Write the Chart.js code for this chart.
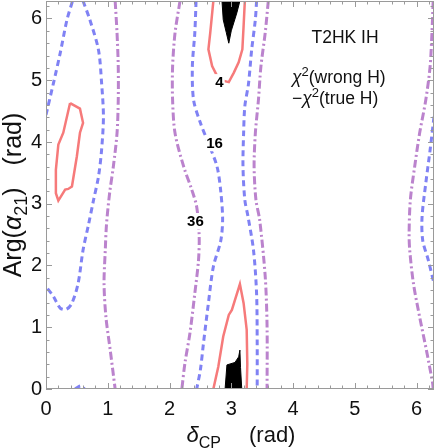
<!DOCTYPE html>
<html>
<head>
<meta charset="utf-8">
<script src="https://cdn.jsdelivr.net/npm/chart.js@4.4.0/dist/chart.umd.min.js"></script>
<style>
html,body{margin:0;padding:0;background:#fff}
#wrap{width:436px;height:448px}
</style>
</head>
<body>
<div id="wrap"><canvas id="c" width="436" height="448"></canvas></div>
<script>
// ================= DATA =================
const TWO_PI = 2*Math.PI;
const xTicks = [0,1,2,3,4,5,6];
const yTicks = [0,1,2,3,4,5,6];

// contour pieces as [deltaCP, Arg(alpha21)]
// chi^2 = 4 (red, solid)
const red4Island = [[0.39,4.63],[0.55,4.54],[0.6,4.31],[0.55,4.15],[0.5,3.77],[0.42,3.28],[0.36,3.24],[0.31,3.23],[0.2,3.05],[0.16,3.17],[0.16,3.55],[0.2,3.96],[0.28,4.15],[0.39,4.63]];
const red4Top = [[2.71,6.283],[2.66,5.77],[2.63,5.5],[2.69,5.23],[2.77,5.07],[2.88,4.99],[2.96,4.97],[3.04,5.12],[3.12,5.29],[3.18,5.5],[3.2,5.88],[3.22,6.283]];
const red4Bottom = [[2.71,0],[2.79,0.36],[2.87,0.85],[2.96,1.2],[3.01,1.28],[3.14,1.7],[3.2,1.39],[3.25,0.96],[3.26,0.4],[3.25,0]];
// chi^2 < 0 regions (black)
const blackTop = [[2.85,6.283],[2.87,5.98],[2.92,5.77],[2.96,5.6],[3.0,5.8],[3.09,6.09],[3.14,6.283]];
const blackBottom = [[2.9,0],[2.93,0.39],[3.06,0.43],[3.12,0.52],[3.14,0.63],[3.15,0.35],[3.17,0]];
// chi^2 = 16 (blue, dashed)
const blue16L1 = [[0,4.44],[0.12,4.95],[0.23,5.44],[0.34,5.98],[0.43,6.283]];
const blue16L2 = [[0.6,6.283],[0.71,5.98],[0.85,5.49],[0.9,4.96],[0.93,4.41],[0.9,3.87],[0.85,3.44],[0.77,3.06],[0.69,2.67],[0.6,2.25],[0.52,1.71],[0.42,1.39],[0.33,1.29],[0.23,1.31],[0.12,1.5],[0,1.66]];
const blue16L3 = [[0.47,0],[0.53,0.04],[0.58,0.05],[0.62,0]];
const blue16C1 = [[2.43,6.283],[2.41,5.77],[2.37,5.22],[2.39,4.68],[2.5,4.31],[2.63,3.98],[2.77,3.6],[2.83,3.2],[2.86,2.75],[2.83,2.4],[2.71,1.98],[2.63,1.39],[2.55,0.74],[2.5,0.31],[2.44,0]];
const blue16C2 = [[3.41,6.283],[3.39,5.98],[3.33,5.49],[3.28,4.95],[3.22,4.58],[3.2,4.14],[3.19,3.6],[3.22,3.06],[3.27,2.8],[3.36,2.25],[3.41,1.55],[3.42,0.74],[3.42,0]];
const blue16R = [[6.283,4.41],[6.22,3.87],[6.15,3.33],[6.09,2.79],[6.1,2.41],[6.19,2.09],[6.283,1.71]];
// chi^2 = 36 (purple, dot-dashed)
const purple36L = [[1.12,6.283],[1.15,5.77],[1.17,5.22],[1.17,4.68],[1.15,4.14],[1.09,3.6],[1.03,3.17],[0.98,2.67],[0.96,2.25],[0.94,1.71],[0.97,1.17],[1.04,0.63],[1.12,0]];
const purple36C1 = [[2.17,6.283],[2.09,5.77],[2.05,5.22],[2.05,4.68],[2.09,4.14],[2.23,3.6],[2.36,3.23],[2.44,2.95],[2.48,2.5],[2.47,2.09],[2.41,1.55],[2.33,0.9],[2.25,0.42],[2.2,0]];
const purple36C2 = [[3.6,6.283],[3.55,5.77],[3.48,5.22],[3.44,4.68],[3.39,4.14],[3.37,3.6],[3.4,3.06],[3.46,2.74],[3.55,1.82],[3.58,1.01],[3.58,0]];
const purple36R = [[6.27,6.283],[6.25,5.77],[6.22,5.22],[6.15,4.68],[6.05,4.14],[5.97,3.6],[5.9,3.06],[5.88,2.52],[5.89,2.25],[5.95,1.71],[6.05,1.17],[6.16,0.63],[6.26,0.1],[6.27,0]];

const contourLabels = [
  {text:"4",  x:2.81, y:4.97},
  {text:"16", x:2.73, y:3.98},
  {text:"36", x:2.42, y:2.72}
];

// ================= HELPERS =================
const FAM = "'Liberation Sans', Arial, sans-serif";
const RED = "#f67a7a", BLUE = "#8082f4", PURPLE = "#bb83cd";
const pts = a => a.map(p => ({x:p[0], y:p[1]}));

function contour(a, color, dash, width, tension){
  return {data:pts(a), showLine:true, pointRadius:0, borderColor:color, borderWidth:width,
          borderDash:dash, tension:tension, fill:false, borderCapStyle:"butt"};
}
function blob(a){
  return {data:pts(a), showLine:true, pointRadius:0, borderColor:"#000", borderWidth:1,
          backgroundColor:"#000", fill:"shape", tension:0};
}

// parts: [text, style]  style: "" | "i" | "sup" | "sub" | "gap"(text is px width)
function richText(ctx, parts, x, y, align, size){
  const fontOf = s => (s==="i" ? "italic " : "") + ((s==="sup"||s==="sub") ? Math.round(size*0.72) : size) + "px " + FAM;
  const widthOf = (t,s) => { if(s==="gap") return t; ctx.font = fontOf(s); return ctx.measureText(t).width; };
  let w = 0;
  for(const [t,s] of parts) w += widthOf(t,s);
  let cx = align==="center" ? x - w/2 : x;
  ctx.textAlign = "left"; ctx.textBaseline = "alphabetic";
  for(const [t,s] of parts){
    const tw = widthOf(t,s);
    if(s !== "gap"){
      ctx.font = fontOf(s);
      const dy = s==="sup" ? -size*0.4 : s==="sub" ? size*0.25 : 0;
      ctx.fillText(t, cx, y+dy);
    }
    cx += tw;
  }
}

// ================= PLUGINS =================
const framePlugin = {
  id:"frame",
  afterDatasetsDraw(chart){
    const {ctx, chartArea:a, scales:{x, y}} = chart;
    ctx.save();
    // contour labels
    ctx.font = "bold 15px " + FAM;
    ctx.textAlign = "center"; ctx.textBaseline = "middle";
    for(const l of contourLabels){
      const px = x.getPixelForValue(l.x), py = y.getPixelForValue(l.y);
      const w = ctx.measureText(l.text).width;
      ctx.fillStyle = "#fff";
      ctx.fillRect(px - w/2 - 1, py - 8, w + 2, 16);
      ctx.fillStyle = "#000";
      ctx.fillText(l.text, px, py + 1);
    }
    // frame + inward ticks
    ctx.strokeStyle = "#9a9a9a"; ctx.lineWidth = 1;
    ctx.strokeRect(a.left + 0.5, a.top + 0.5, a.right - a.left - 1, a.bottom - a.top - 1);
    ctx.beginPath();
    for(let i = 0; i <= 31; i++){
      const v = i*0.2, len = (i % 5 === 0) ? 6 : 3.5;
      const px = Math.round(x.getPixelForValue(v)) + 0.5;
      ctx.moveTo(px, a.bottom); ctx.lineTo(px, a.bottom - len);
      ctx.moveTo(px, a.top); ctx.lineTo(px, a.top + len);
      const py = Math.round(y.getPixelForValue(v)) + 0.5;
      ctx.moveTo(a.left, py); ctx.lineTo(a.left + len, py);
      ctx.moveTo(a.right, py); ctx.lineTo(a.right - len, py);
    }
    ctx.stroke();
    ctx.restore();
  },
  afterDraw(chart){
    const {ctx, chartArea:a} = chart;
    ctx.save();
    ctx.fillStyle = "#111";
    // x title
    richText(ctx, [["δ","i"],["CP","sub"],[28,"gap"],["(rad)",""]], (a.left + a.right)/2 + 1, 442, "center", 22);
    // y title
    ctx.translate(21, 195);
    ctx.rotate(-Math.PI/2);
    richText(ctx, [["Arg(",""],["α","i"],["21","sub"],[")",""],[22,"gap"],["(rad)",""]], 0, 0, "center", 25);
    ctx.restore();
    ctx.save();
    ctx.fillStyle = "#111";
    richText(ctx, [["T2HK IH",""]], 345, 43, "center", 17.5);
    richText(ctx, [["χ","i"],["2","sup"],["(wrong H)",""]], 292, 83, "left", 17.5);
    richText(ctx, [["−",""],["χ","i"],["2","sup"],["(true H)",""]], 292, 104, "left", 17.5);
    ctx.restore();
  }
};

// ================= CHART =================
Chart.defaults.font.family = FAM;

const BLUE_DASH = [6,4], PURPLE_DASH = [8,3,2,3];
const datasets = [
  blob(blackTop), blob(blackBottom),
  contour(red4Island, RED, [], 2.5, 0),
  contour(red4Top, RED, [], 2.5, 0),
  contour(red4Bottom, RED, [], 2.5, 0),
  contour(blue16L1, BLUE, BLUE_DASH, 3, 0.3),
  contour(blue16L2, BLUE, BLUE_DASH, 3, 0.3),
  contour(blue16L3, BLUE, BLUE_DASH, 3, 0.3),
  contour(blue16C1, BLUE, BLUE_DASH, 3, 0.3),
  contour(blue16C2, BLUE, BLUE_DASH, 3, 0.3),
  contour(blue16R, BLUE, BLUE_DASH, 3, 0.3),
  contour(purple36L, PURPLE, PURPLE_DASH, 3, 0.3),
  contour(purple36C1, PURPLE, PURPLE_DASH, 3, 0.3),
  contour(purple36C2, PURPLE, PURPLE_DASH, 3, 0.3),
  contour(purple36R, PURPLE, PURPLE_DASH, 3, 0.3)
];

new Chart(document.getElementById("c").getContext("2d"), {
  type:"scatter",
  data:{datasets},
  options:{
    responsive:false, animation:false, devicePixelRatio:1,
    layout:{padding:{top:1, right:2, left:0, bottom:0}, autoPadding:false},
    plugins:{legend:{display:false}, tooltip:{enabled:false}},
    scales:{
      x:{type:"linear", min:0, max:TWO_PI,
         grid:{display:false, drawTicks:false}, border:{display:false},
         afterBuildTicks: s => { s.ticks = xTicks.map(v => ({value:v})); },
         afterFit: s => { s.height = 59; s.paddingLeft = 0; s.paddingRight = 0; },
         ticks:{font:{size:20}, color:"#111", padding:8, maxRotation:0, autoSkip:false}},
      y:{type:"linear", min:0, max:TWO_PI,
         grid:{display:false, drawTicks:false}, border:{display:false},
         afterBuildTicks: s => { s.ticks = yTicks.map(v => ({value:v})); },
         afterFit: s => { s.width = 46; s.paddingTop = 0; s.paddingBottom = 0; },
         ticks:{font:{size:20}, color:"#111", padding:4, autoSkip:false}}
    }
  },
  plugins:[framePlugin]
});
</script>
</body>
</html>
